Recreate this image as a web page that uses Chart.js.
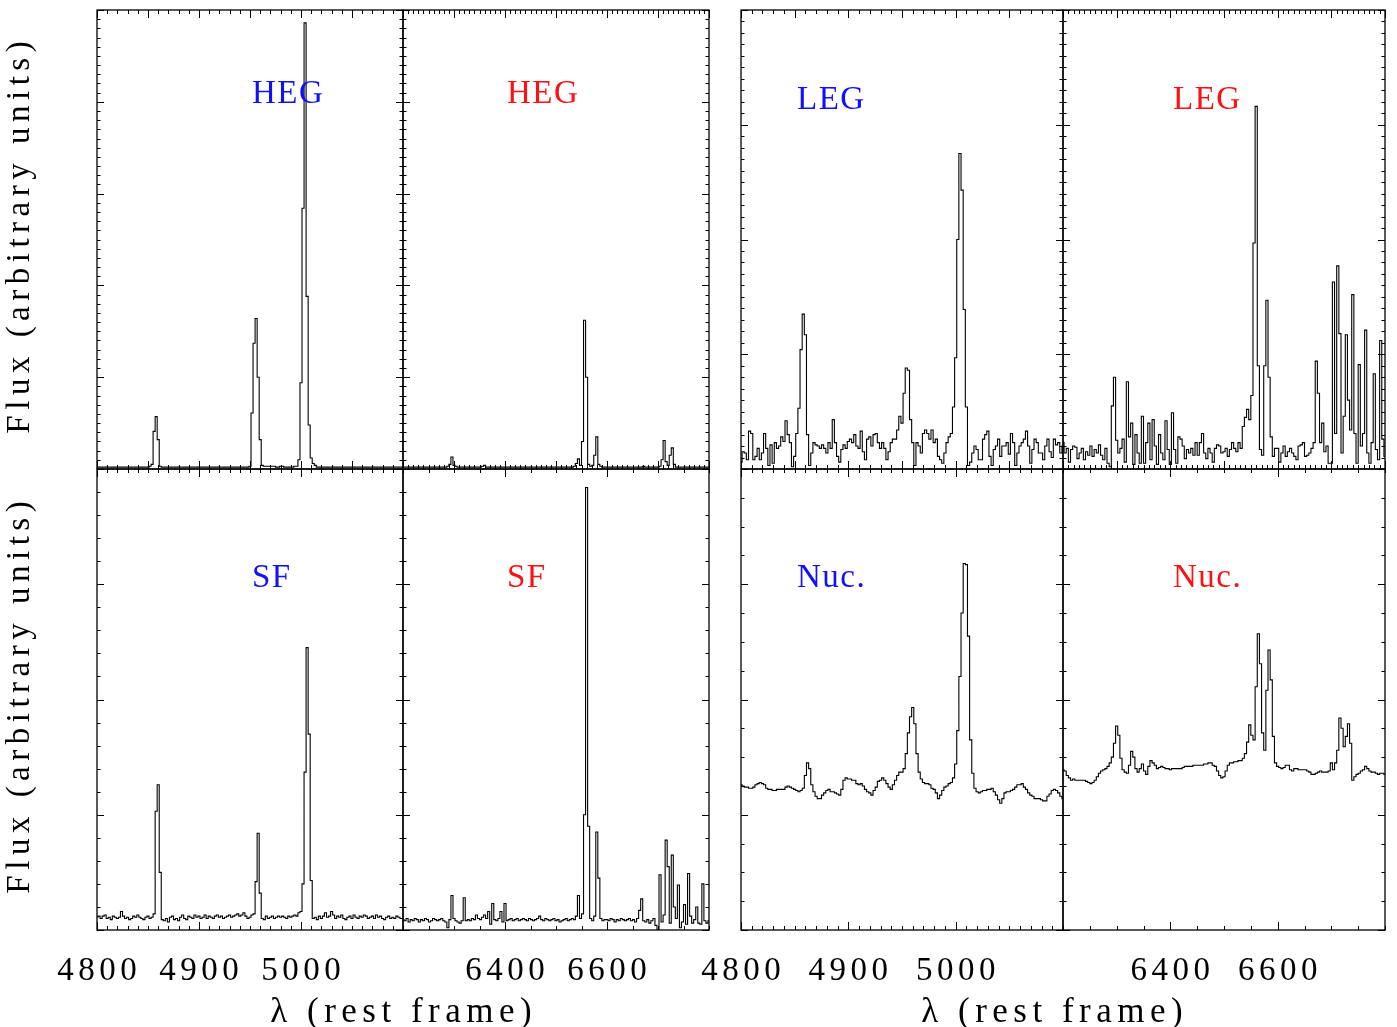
<!DOCTYPE html>
<html><head><meta charset="utf-8">
<script src="https://cdn.jsdelivr.net/npm/chart.js@4.4.1/dist/chart.umd.min.js"></script>
<style>
html,body{margin:0;padding:0;background:#fff;}
body{width:1397px;height:1027px;position:relative;overflow:hidden;}
canvas{position:absolute;left:0;top:0;}
</style></head>
<body>
<canvas id="c0" width="1397" height="1027"></canvas>
<canvas id="c1" width="1397" height="1027"></canvas>
<canvas id="c2" width="1397" height="1027"></canvas>
<canvas id="c3" width="1397" height="1027"></canvas>
<canvas id="c4" width="1397" height="1027"></canvas>
<canvas id="c5" width="1397" height="1027"></canvas>
<canvas id="c6" width="1397" height="1027"></canvas>
<canvas id="c7" width="1397" height="1027"></canvas>
<script>
// ---------------- DATA ----------------
const waveBlue = [
4800,4802,4804,4806,4808,4810,4812,4814,4816,4818,
4820,4822,4824,4826,4828,4830,4832,4834,4836,4838,
4840,4842,4844,4846,4848,4850,4852,4854,4856,4858,
4860,4862,4864,4866,4868,4870,4872,4874,4876,4878,
4880,4882,4884,4886,4888,4890,4892,4894,4896,4898,
4900,4902,4904,4906,4908,4910,4912,4914,4916,4918,
4920,4922,4924,4926,4928,4930,4932,4934,4936,4938,
4940,4942,4944,4946,4948,4950,4952,4954,4956,4958,
4960,4962,4964,4966,4968,4970,4972,4974,4976,4978,
4980,4982,4984,4986,4988,4990,4992,4994,4996,4998,
5000,5002,5004,5006,5008,5010,5012,5014,5016,5018,
5020,5022,5024,5026,5028,5030,5032,5034,5036,5038,
5040,5042,5044,5046,5048,5050,5052,5054,5056,5058,
5060,5062,5064,5066,5068,5070,5072,5074,5076,5078,
5080,5082,5084,5086,5088,5090,5092,5094,5096,5098,
5100];
const waveRed = [
6200,6204,6208,6212,6216,6220,6224,6228,6232,6236,
6240,6244,6248,6252,6256,6260,6264,6268,6272,6276,
6280,6284,6288,6292,6296,6300,6304,6308,6312,6316,
6320,6324,6328,6332,6336,6340,6344,6348,6352,6356,
6360,6364,6368,6372,6376,6380,6384,6388,6392,6396,
6400,6404,6408,6412,6416,6420,6424,6428,6432,6436,
6440,6444,6448,6452,6456,6460,6464,6468,6472,6476,
6480,6484,6488,6492,6496,6500,6504,6508,6512,6516,
6520,6524,6528,6532,6536,6540,6544,6548,6552,6556,
6560,6564,6568,6572,6576,6580,6584,6588,6592,6596,
6600,6604,6608,6612,6616,6620,6624,6628,6632,6636,
6640,6644,6648,6652,6656,6660,6664,6668,6672,6676,
6680,6684,6688,6692,6696,6700,6704,6708,6712,6716,
6720,6724,6728,6732,6736,6740,6744,6748,6752,6756,
6760,6764,6768,6772,6776,6780,6784,6788,6792,6796,
6800];

const fluxHEGblue = [
.02,.02,.02,.02,.02,.02,.02,.02,.02,.02,
.02,.02,.02,.02,.02,.02,.02,.02,.02,.02,
.02,.02,.02,.02,.02,.02,.03,.05,.41,.57,
.32,.03,.02,.02,.02,.02,.02,.02,.02,.02,
.02,.02,.02,.02,.02,.02,.02,.02,.02,.02,
.02,.02,.02,.02,.02,.02,.02,.02,.02,.02,
.02,.02,.02,.02,.02,.02,.02,.02,.02,.02,
.02,.02,.02,.02,.02,.03,.61,1.37,1.64,1.0,
.32,.04,.03,.03,.03,.03,.03,.03,.02,.02,
.03,.03,.02,.02,.02,.02,.02,.03,.03,.10,
.94,2.84,4.86,1.88,.48,.12,.06,.04,.02,.02,
.02,.02,.02,.02,.02,.02,.02,.02,.02,.02,
.02,.02,.02,.02,.02,.02,.02,.02,.02,.02,
.02,.02,.02,.02,.02,.02,.02,.02,.02,.02,
.02,.02,.02,.02,.02,.02,.02,.02,.02,.02,
.02];
const fluxHEGred = [
.02,.02,.02,.02,.02,.02,.02,.02,.02,.02,
.02,.02,.02,.02,.02,.02,.02,.02,.02,.02,
.02,.02,.03,.05,.13,.04,.03,.02,.02,.02,
.02,.02,.02,.02,.02,.02,.02,.02,.02,.03,
.04,.02,.02,.02,.02,.02,.02,.02,.02,.02,
.02,.02,.02,.02,.02,.02,.02,.02,.02,.02,
.02,.02,.02,.02,.02,.02,.02,.02,.02,.02,
.02,.02,.02,.02,.02,.02,.02,.02,.02,.02,
.02,.02,.02,.02,.03,.06,.11,.04,.30,1.62,
1.0,.05,.03,.04,.15,.35,.05,.03,.02,.02,
.02,.02,.02,.02,.02,.02,.02,.02,.02,.02,
.02,.02,.02,.02,.02,.02,.02,.02,.03,.02,
.02,.02,.02,.02,.02,.02,.03,.10,.31,.08,
.04,.15,.23,.05,.02,.02,.02,.02,.02,.02,
.02,.02,.02,.02,.02,.02,.02,.02,.02,.02,
.02];
const fluxSFblue = [
.11,.12,.10,.12,.13,.10,.11,.09,.12,.11,
.10,.11,.16,.12,.10,.11,.09,.10,.12,.11,
.13,.11,.10,.09,.11,.12,.10,.11,.14,1.03,
1.26,.50,.09,.08,.10,.07,.11,.12,.09,.10,
.08,.11,.13,.10,.09,.12,.11,.10,.13,.11,
.12,.10,.11,.13,.10,.12,.11,.10,.12,.13,
.11,.12,.10,.11,.12,.13,.11,.12,.13,.14,
.12,.13,.15,.12,.10,.11,.13,.14,.42,.84,
.32,.10,.09,.12,.10,.11,.12,.10,.11,.12,
.11,.12,.11,.10,.12,.11,.12,.13,.12,.15,
.16,.40,1.37,2.45,1.70,.43,.10,.11,.09,.12,
.10,.12,.15,.11,.12,.16,.13,.10,.12,.11,
.13,.10,.09,.11,.12,.10,.13,.11,.10,.12,
.11,.13,.12,.10,.11,.12,.10,.13,.11,.12,
.10,.09,.11,.12,.10,.11,.10,.12,.11,.10,
.10];
const fluxSFred = [
.09,.08,.10,.07,.09,.08,.10,.09,.07,.09,
.08,.10,.09,.07,.08,.10,.09,.08,.09,.10,
.08,.07,.02,.09,.30,.10,.08,.07,.06,.08,
.28,.08,.09,.08,.10,.09,.13,.10,.09,.11,
.13,.10,.16,.05,.23,.09,.08,.10,.16,.07,
.23,.08,.09,.10,.08,.09,.10,.08,.09,.10,
.09,.08,.10,.09,.08,.09,.10,.12,.09,.08,
.10,.09,.08,.09,.10,.08,.09,.07,.08,.09,
.10,.08,.09,.10,.09,.12,.30,.10,.14,1.0,
3.84,.90,.10,.08,.12,.85,.45,.10,.08,.09,
.09,.08,.10,.09,.07,.09,.08,.10,.09,.08,
.09,.10,.08,.09,.07,.10,.17,.27,.08,.07,
.09,.06,.08,.10,.04,.00,.48,.07,.13,.78,
.55,.06,.65,.20,.10,.39,.02,.07,.22,.05,
.49,.12,.06,.09,.20,.06,.05,.40,.08,.06,
.08];
const fluxLEGblue = [
.06,.15,.14,.08,.33,.31,.08,.11,.18,.08,
.14,.31,.18,.03,.21,.05,.23,.18,.20,.28,
.24,.42,.30,.23,.02,.11,.31,.53,1.04,1.35,
1.17,.30,.03,.14,.23,.21,.20,.18,.21,.18,
.14,.23,.18,.43,.23,.11,.06,.17,.21,.18,
.24,.26,.23,.30,.20,.18,.33,.15,.08,.26,
.28,.20,.30,.31,.23,.18,.23,.18,.08,.15,
.23,.26,.26,.34,.46,.40,.66,.88,.86,.43,
.23,.03,.23,.20,.14,.31,.34,.31,.26,.34,
.23,.26,.11,.08,.05,.14,.23,.28,.31,.54,
.97,2.0,2.75,2.43,1.39,.54,.03,.06,.14,.20,
.17,.08,.08,.26,.30,.33,.11,.03,.17,.20,
.26,.11,.20,.20,.23,.13,.31,.23,.03,.14,
.20,.23,.26,.33,.20,.05,.17,.26,.23,.14,
.14,.08,.20,.26,.15,.10,.26,.21,.23,.14,
.20];
const fluxLEGred = [
.23,.14,.18,.06,.17,.20,.19,.09,.14,.18,
.08,.15,.12,.20,.11,.17,.14,.21,.12,.08,
.18,.05,.02,.55,.80,.25,.14,.18,.26,.06,
.76,.28,.40,.04,.30,.14,.05,.46,.05,.23,
.40,.08,.43,.20,.04,.30,.14,.08,.42,.17,
.04,.49,.17,.05,.28,.26,.20,.09,.17,.14,
.18,.12,.23,.12,.23,.31,.14,.09,.18,.14,
.06,.18,.21,.20,.14,.15,.18,.11,.17,.23,
.18,.15,.23,.18,.37,.45,.52,.43,.64,1.97,
3.16,.90,.17,.12,.90,1.47,.80,.28,.11,.18,
.18,.06,.14,.20,.11,.15,.18,.14,.11,.08,
.20,.21,.23,.11,.12,.14,.18,.23,.94,.66,
.23,.40,.15,.20,.05,.05,1.63,.31,1.77,1.18,
.14,.46,1.17,.60,.34,1.52,.31,.05,.91,.20,
.31,1.21,.14,.05,.23,.83,.17,.08,1.12,.26,
.11];
const fluxNucBlue = [
1.26,1.25,1.24,1.24,1.23,1.23,1.24,1.26,1.27,1.28,
1.27,1.26,1.23,1.22,1.22,1.21,1.21,1.22,1.22,1.22,
1.22,1.24,1.25,1.24,1.23,1.22,1.21,1.20,1.21,1.23,
1.34,1.45,1.40,1.26,1.20,1.16,1.14,1.14,1.17,1.19,
1.21,1.22,1.20,1.20,1.19,1.18,1.17,1.22,1.30,1.32,
1.31,1.31,1.30,1.30,1.27,1.26,1.27,1.25,1.22,1.20,
1.19,1.17,1.21,1.24,1.29,1.30,1.32,1.30,1.27,1.24,
1.22,1.26,1.30,1.34,1.37,1.37,1.40,1.53,1.71,1.85,
1.93,1.79,1.53,1.37,1.31,1.28,1.27,1.27,1.26,1.23,
1.22,1.19,1.14,1.17,1.21,1.24,1.25,1.27,1.28,1.32,
1.44,1.73,2.20,2.75,3.18,3.17,2.55,1.65,1.36,1.23,
1.20,1.19,1.20,1.21,1.21,1.22,1.22,1.23,1.20,1.17,
1.13,1.10,1.14,1.19,1.20,1.20,1.21,1.22,1.24,1.26,
1.26,1.27,1.24,1.22,1.19,1.17,1.16,1.14,1.14,1.14,
1.13,1.12,1.12,1.16,1.18,1.21,1.22,1.21,1.19,1.16,
1.14];
const fluxNucRed = [
1.39,1.38,1.34,1.32,1.30,1.31,1.30,1.30,1.30,1.30,
1.30,1.29,1.28,1.27,1.28,1.30,1.33,1.36,1.38,1.39,
1.40,1.42,1.45,1.50,1.62,1.77,1.69,1.49,1.39,1.37,
1.36,1.43,1.55,1.50,1.40,1.37,1.40,1.44,1.38,1.35,
1.42,1.47,1.45,1.43,1.40,1.41,1.42,1.41,1.40,1.40,
1.39,1.40,1.40,1.40,1.40,1.40,1.41,1.42,1.42,1.42,
1.42,1.43,1.43,1.43,1.43,1.43,1.44,1.44,1.45,1.45,
1.43,1.42,1.38,1.34,1.32,1.33,1.38,1.43,1.45,1.45,
1.46,1.46,1.47,1.47,1.49,1.53,1.63,1.78,1.69,1.65,
2.11,2.57,2.31,1.71,1.56,2.08,2.43,2.17,1.68,1.45,
1.42,1.41,1.40,1.41,1.43,1.43,1.39,1.38,1.40,1.40,
1.39,1.39,1.39,1.39,1.38,1.37,1.35,1.35,1.36,1.37,
1.38,1.37,1.37,1.37,1.38,1.45,1.39,1.45,1.56,1.84,
1.75,1.59,1.68,1.79,1.62,1.30,1.33,1.35,1.36,1.38,
1.39,1.42,1.40,1.38,1.37,1.37,1.36,1.35,1.36,1.36,
1.35];

const tickLabelsBlue = [4800, 4900, 5000];
const tickLabelsRed = [6400, 6600];
const yTitleText = 'Flux (arbitrary units)';
const xTitleText = 'λ (rest frame)';
const BLUE = '#1010ff', RED = '#ff1010';

// ---------------- HELPERS ----------------
const FONT = '"Liberation Serif", "Times New Roman", serif';
function steps(a, b, s) { const r = []; const n = Math.round((b - a) / s); for (let i = 0; i <= n; i++) r.push(a + i * s); return r; }
function pts(w, f) { return w.map((v, i) => ({ x: v, y: f[i] })); }

function spaced(ctx, text, x, y, font, spacing, align) {
  ctx.font = font;
  ctx.letterSpacing = spacing + 'px';
  ctx.textAlign = align;
  const dx = align === 'center' ? spacing / 2 : 0;
  ctx.fillText(text, x + dx, y);
  ctx.letterSpacing = '0px';
}

function framePlugin(p) {
  return {
    id: 'frame' + p.id,
    afterDatasetsDraw(chart) {
      const { ctx, chartArea: a, scales: { x, y } } = chart;
      ctx.save();
      ctx.strokeStyle = '#000';
      ctx.lineWidth = 1;
      ctx.beginPath();
      const XM = 8, Xm = 4, YM = 7, Ym = 3.5;
      p.xMinor.forEach(v => { const px = Math.round(x.getPixelForValue(v)) + 0.5;
        ctx.moveTo(px, a.top); ctx.lineTo(px, a.top + Xm);
        ctx.moveTo(px, a.bottom); ctx.lineTo(px, a.bottom - Xm); });
      p.xMajor.forEach(v => { const px = Math.round(x.getPixelForValue(v)) + 0.5;
        ctx.moveTo(px, a.top); ctx.lineTo(px, a.top + XM);
        ctx.moveTo(px, a.bottom); ctx.lineTo(px, a.bottom - XM); });
      p.yMinor.forEach(v => { const py = Math.round(y.getPixelForValue(v)) + 0.5;
        ctx.moveTo(a.left, py); ctx.lineTo(a.left + Ym, py);
        ctx.moveTo(a.right, py); ctx.lineTo(a.right - Ym, py); });
      p.yMajor.forEach(v => { const py = Math.round(y.getPixelForValue(v)) + 0.5;
        ctx.moveTo(a.left, py); ctx.lineTo(a.left + YM, py);
        ctx.moveTo(a.right, py); ctx.lineTo(a.right - YM, py); });
      ctx.stroke();
      ctx.lineWidth = 1.3;
      ctx.strokeRect(a.left, a.top, a.right - a.left, a.bottom - a.top);

      ctx.textBaseline = 'alphabetic';
      ctx.fillStyle = p.color;
      spaced(ctx, p.label, p.lx, p.ly, '33px ' + FONT, 1.5, 'left');

      ctx.fillStyle = '#000';
      if (p.tickLabels) {
        p.tickLabels.forEach(v => {
          spaced(ctx, String(v), x.getPixelForValue(v), 980, '33px ' + FONT, 4.5, 'center');
        });
      }
      if (p.xTitle) {
        spaced(ctx, xTitleText, p.xTitle, 1022, '35px ' + FONT, 5.5, 'center');
      }
      if (p.yTitle) {
        ctx.save();
        ctx.translate(29, (a.top + a.bottom) / 2 - 2);
        ctx.rotate(-Math.PI / 2);
        spaced(ctx, yTitleText, 0, 0, '33px ' + FONT, 5.5, 'center');
        ctx.restore();
      }
      ctx.restore();
    }
  };
}

// ---------------- PANELS ----------------
const W = 1397, H = 1027;
const panels = [
  { id: 0, wave: waveBlue, flux: fluxHEGblue, xr: [4800, 5100], yr: [0, 5], box: [97, 10, 403, 469],
    xMajor: steps(4800, 5100, 50), xMinor: steps(4800, 5100, 10), yMajor: steps(0, 5, 1), yMinor: steps(0, 5, 0.1),
    label: 'HEG', color: BLUE, lx: 252, ly: 103, yTitle: true },
  { id: 1, wave: waveRed, flux: fluxHEGred, xr: [6200, 6800], yr: [0, 5], box: [403, 10, 709, 469],
    xMajor: steps(6200, 6800, 100), xMinor: steps(6200, 6800, 10), yMajor: steps(0, 5, 1), yMinor: steps(0, 5, 0.1),
    label: 'HEG', color: RED, lx: 507, ly: 103 },
  { id: 2, wave: waveBlue, flux: fluxSFblue, xr: [4800, 5100], yr: [0, 4], box: [97, 469, 403, 930],
    xMajor: tickLabelsBlue, xMinor: steps(4800, 5100, 10), yMajor: steps(0, 4, 1), yMinor: steps(0, 4, 0.2),
    label: 'SF', color: BLUE, lx: 252, ly: 587, yTitle: true, tickLabels: tickLabelsBlue, xTitle: 401 },
  { id: 3, wave: waveRed, flux: fluxSFred, xr: [6200, 6800], yr: [0, 4], box: [403, 469, 709, 930],
    xMajor: tickLabelsRed, xMinor: steps(6200, 6800, 50), yMajor: steps(0, 4, 1), yMinor: steps(0, 4, 0.2),
    label: 'SF', color: RED, lx: 507, ly: 587, tickLabels: tickLabelsRed },
  { id: 4, wave: waveBlue, flux: fluxLEGblue, xr: [4800, 5100], yr: [0, 4], box: [741, 10, 1063, 469],
    xMajor: steps(4800, 5100, 50), xMinor: steps(4800, 5100, 10), yMajor: steps(0, 4, 1), yMinor: steps(0, 4, 0.1),
    label: 'LEG', color: BLUE, lx: 797, ly: 109 },
  { id: 5, wave: waveRed, flux: fluxLEGred, xr: [6200, 6800], yr: [0, 4], box: [1063, 10, 1385, 469],
    xMajor: steps(6200, 6800, 100), xMinor: steps(6200, 6800, 10), yMajor: steps(0, 4, 1), yMinor: steps(0, 4, 0.1),
    label: 'LEG', color: RED, lx: 1173, ly: 109 },
  { id: 6, wave: waveBlue, flux: fluxNucBlue, xr: [4800, 5100], yr: [0, 4], box: [741, 469, 1063, 930],
    xMajor: tickLabelsBlue, xMinor: steps(4800, 5100, 10), yMajor: steps(0, 4, 1), yMinor: steps(0, 4, 0.25),
    label: 'Nuc.', color: BLUE, lx: 797, ly: 587, tickLabels: tickLabelsBlue, xTitle: 1052 },
  { id: 7, wave: waveRed, flux: fluxNucRed, xr: [6200, 6800], yr: [0, 4], box: [1063, 469, 1385, 930],
    xMajor: tickLabelsRed, xMinor: steps(6200, 6800, 50), yMajor: steps(0, 4, 1), yMinor: steps(0, 4, 0.25),
    label: 'Nuc.', color: RED, lx: 1173, ly: 587, tickLabels: tickLabelsRed }
];

panels.forEach(p => {
  const [x0, y0, x1, y1] = p.box;
  new Chart(document.getElementById('c' + p.id), {
    type: 'line',
    data: { datasets: [{ data: pts(p.wave, p.flux), borderColor: '#000', borderWidth: 1.1,
      pointRadius: 0, stepped: 'middle', fill: false }] },
    options: {
      responsive: false, animation: false, events: [],
      layout: { padding: { left: x0, top: y0, right: W - x1, bottom: H - y1 } },
      plugins: { legend: { display: false }, tooltip: { enabled: false } },
      scales: {
        x: { type: 'linear', min: p.xr[0], max: p.xr[1], display: false },
        y: { type: 'linear', min: p.yr[0], max: p.yr[1], display: false }
      }
    },
    plugins: [framePlugin(p)]
  });
});
</script>
</body></html>
